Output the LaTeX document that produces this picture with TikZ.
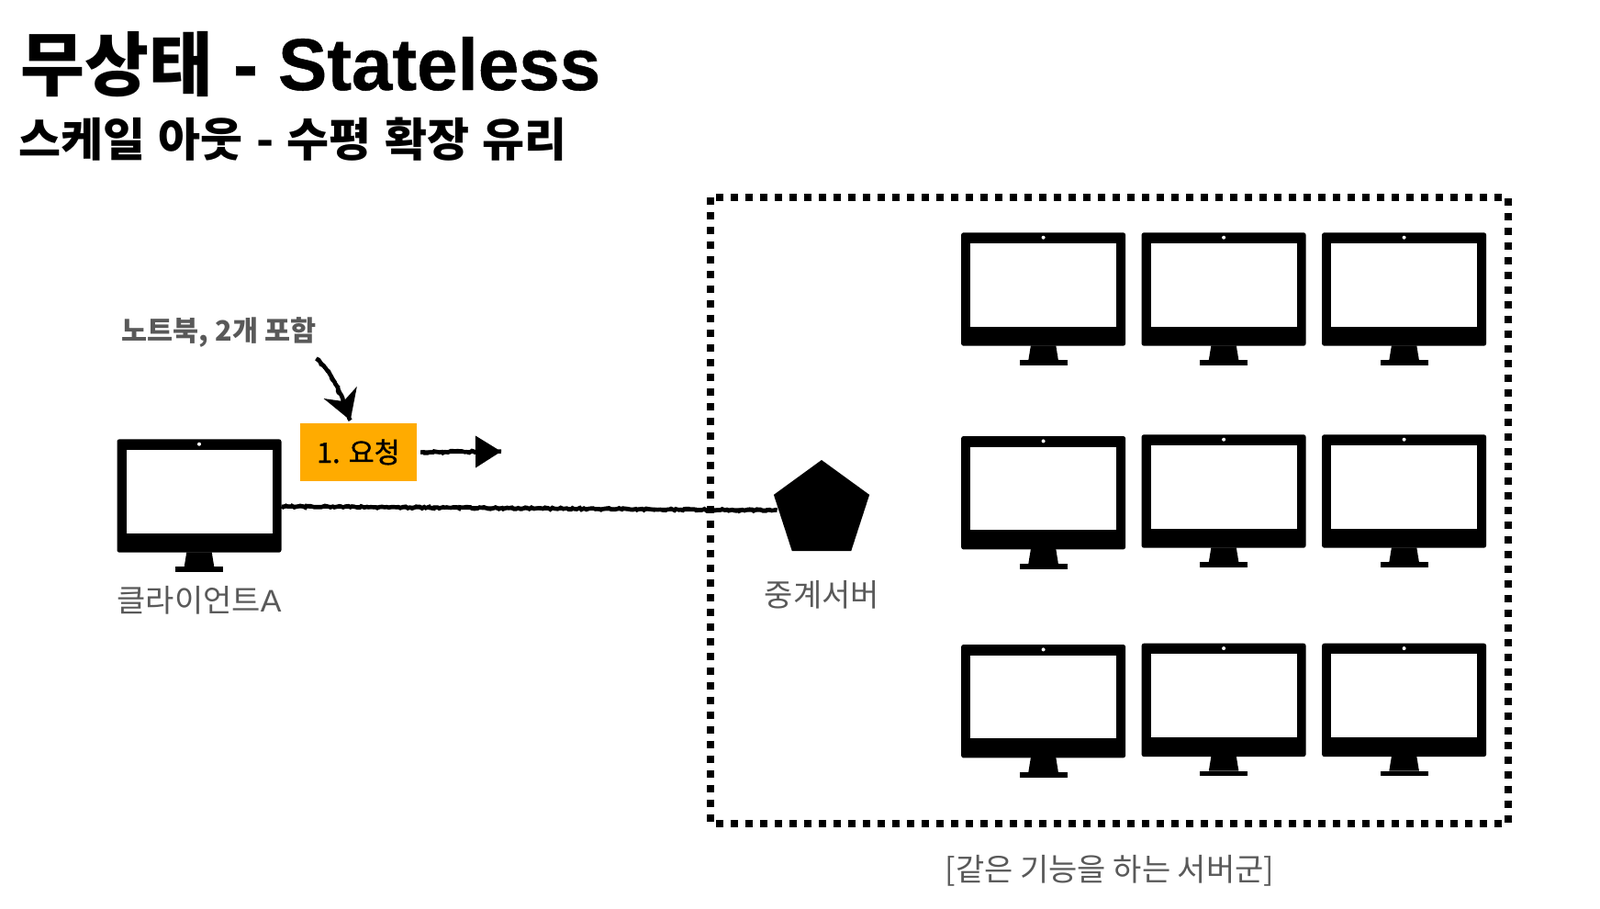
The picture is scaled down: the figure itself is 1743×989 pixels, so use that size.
\documentclass[tikz,border=0pt]{standalone}
\usepackage{fontspec}
\usetikzlibrary{arrows.meta,shapes.geometric,decorations.pathmorphing}
\setmainfont{Liberation Sans}[BoldFeatures={FakeBold=0.6}]
\newfontfamily\krfont{Noto Sans CJK KR}
\newfontfamily\krmid{Noto Sans CJK KR}[FakeBold=1.2]
\definecolor{reqorange}{HTML}{FFAB00}
\definecolor{labelgray}{HTML}{595959}
\tikzset{
  monitor/.pic={
    \node[draw=none,fill=black,rounded corners=2.5pt,inner sep=0pt,minimum width=179pt,minimum height=123.4pt] (-body) at (0,61.7) {};
    \fill[white] (-79.5,11.7) rectangle (79.5,102.4);
    \fill[white] (0,5.4) circle (2pt);
    \fill[black] (-13.7,123) -- (13.7,123) -- (16.3,139) -- (-16.3,139) -- cycle;
    \fill[black] (-26,139) rectangle (26,144.7);
  },
  sketch/.style={black,line width=4pt,preaction={draw,line width=4.4pt,tips=never,decorate,decoration={random steps,segment length=2.5pt,amplitude=1.1pt}}},
  label/.style={text=labelgray,inner sep=0pt,font=\krfont\fontsize{34pt}{34pt}\selectfont},
}
\begin{document}
\begin{tikzpicture}[x=1pt,y=-1pt]
  \useasboundingbox (0,0) rectangle (1743,989);

  % Titles
  \node[anchor=base west,inner sep=0pt,font=\bfseries\fontsize{80pt}{80pt}\selectfont] (title) at (22,98) {{\krfont\fontsize{76pt}{76pt}\selectfont 무상태} - Stateless};
  \node[anchor=base west,inner sep=0pt,font=\krfont\bfseries\fontsize{50pt}{50pt}\selectfont] (subtitle) at (20,170) {\spaceskip=14.5pt 스케일 아웃 - 수평 확장 유리};

  % Client
  \pic (clientA) at (217,478.3) {monitor};
  \node[label] (clientLabel) at (217,654) {클라이언트{\rmfamily A}};
  \node[text=labelgray,inner sep=0pt,font=\krfont\bfseries\fontsize{30.5pt}{30.5pt}\selectfont] (note) at (238.5,362) {노트북, 2개 포함};
  \node[fill=reqorange,inner sep=0pt,minimum width=127pt,minimum height=63pt,font=\krmid\fontsize{30.5pt}{30.5pt}\selectfont] (request) at (390.5,492.5) {1. 요청};

  % Server group
  \draw[line width=8pt,dash pattern=on 8pt off 8pt] (774,214.5) rectangle (1643,896.7);
  \foreach \name/\x/\y in {srvA/1136.6/253.3,srvB/1333.1/253.3,srvC/1529.6/253.3,
                           srvD/1136.6/475,srvE/1333.1/473.3,srvF/1529.6/473.3,
                           srvG/1136.6/702,srvH/1333.1/700.7,srvI/1529.6/700.7}
    \pic (\name) at (\x,\y) {monitor};
  \node[regular polygon,regular polygon sides=5,fill=black,inner sep=0pt,outer sep=0pt,minimum size=109.6pt] (relay) at (895,555.8) {};
  \node[label] (relayLabel) at (895.5,648) {중계서버};
  \node[label] (groupLabel) at (1209,948) {[같은 기능을 하는 서버군]};

  % Connectors
  \coordinate (reqTip) at (546,491.7);
  \draw[sketch] ([yshift=-11.5pt]clientA-body.east) -- ([xshift=-2pt]relay.west);
  \draw[sketch,-{Stealth[length=32pt,width=38pt,inset=10pt]}] ([yshift=-12pt]note.south east) .. controls (362,405) and (372,431) .. ([xshift=-8.8pt,yshift=3pt]request.north);
  \draw[sketch,-{Triangle[length=28pt,width=34pt]}] ([xshift=4pt]request.east) -- (reqTip);
\end{tikzpicture}
\end{document}
